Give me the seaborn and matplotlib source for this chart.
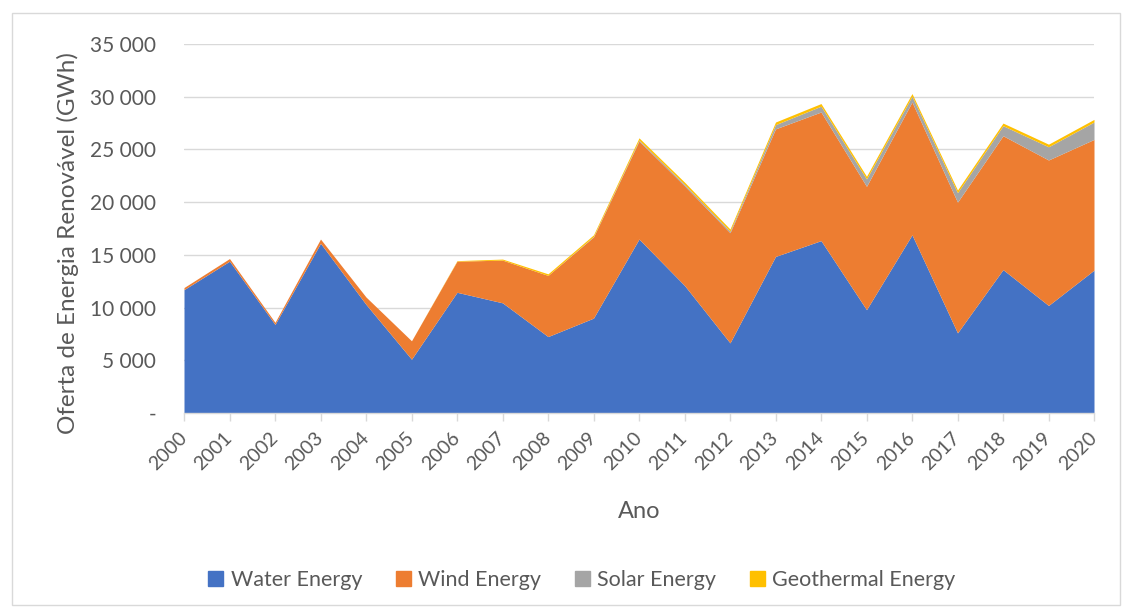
import matplotlib
matplotlib.use("Agg")
import matplotlib.pyplot as plt
import matplotlib.patches as mpatches
from matplotlib.ticker import FuncFormatter, FixedLocator
import seaborn as sns
import numpy as np

years = list(range(2000, 2021))
water = [11700, 14400, 8400, 16100, 10300, 5100, 11450, 10450, 7250, 9000, 16500,
         12100, 6650, 14850, 16350, 9800, 16900, 7600, 13600, 10200, 13550]
wind = [200, 250, 200, 400, 700, 1750, 2950, 4050, 5800, 7700, 9300,
        9450, 10450, 12100, 12200, 11700, 12600, 12400, 12700, 13800, 12400]
solar = [0, 0, 0, 0, 0, 0, 0, 0, 0, 50, 100,
         150, 150, 400, 550, 700, 550, 900, 950, 1250, 1650]
geo = [0, 0, 0, 0, 0, 0, 50, 100, 150, 150, 200,
       200, 200, 250, 250, 250, 250, 250, 250, 250, 250]
series_names = ["Water Energy", "Wind Energy", "Solar Energy", "Geothermal Energy"]
colors = ["#4472C4", "#ED7D31", "#A5A5A5", "#FFC000"]

sns.set_theme(style="white")
plt.rcParams["font.family"] = ["Lato", "DejaVu Sans"]
txt = "#595959"

fig = plt.figure(figsize=(11.32, 6.13), dpi=100)
ax = fig.add_axes([184/1132, 1-413/613, (1094-184)/1132, (413-44)/613])

ax.stackplot(years, water, wind, solar, geo, colors=colors, labels=series_names, linewidth=0)

ax.set_xlim(2000, 2020)
ax.set_ylim(0, 35000)
ax.yaxis.set_major_locator(FixedLocator(np.arange(0, 35001, 5000)))
ax.yaxis.set_major_formatter(FuncFormatter(lambda v, p: "-" if v == 0 else f"{int(v):,}".replace(",", " ")))
ax.set_xticks(years)
ax.set_xticklabels([str(y) for y in years], rotation=45, ha="right", va="center",
                   rotation_mode="anchor", fontsize=14, color=txt)
ax.tick_params(axis="x", length=6, width=1, color="#D9D9D9", pad=10, direction="out", bottom=True)
ax.tick_params(axis="y", length=0, labelsize=15, labelcolor=txt, pad=20)
ax.grid(axis="y", color="#D9D9D9", linewidth=1)
ax.set_axisbelow(True)
for s in ["top", "right", "left"]:
    ax.spines[s].set_visible(False)
ax.spines["bottom"].set_color("#D9D9D9")
ax.spines["bottom"].set_linewidth(1)
ax.spines["bottom"].set_zorder(5)

ax.set_ylabel("Oferta de Energia Renovável (GWh)", fontsize=17.5, color=txt, labelpad=8)
ax.yaxis.label.set_y(0.46)
ax.set_xlabel("Ano", fontsize=17, color=txt, labelpad=20)

handles = [mpatches.Patch(color=c, label=n) for c, n in zip(colors, series_names)]
fig.legend(handles=handles, loc="center", bbox_to_anchor=(0.514, 0.054), ncol=4, frameon=False,
           fontsize=15.5, labelcolor=txt, handlelength=0.7, handleheight=0.7, handletextpad=0.35,
           columnspacing=1.55)

fig.patches.append(mpatches.Rectangle((12/1132, 8/613), (1120-12)/1132, (600-8)/613,
                                      transform=fig.transFigure, fill=False,
                                      edgecolor="#D9D9D9", linewidth=1))

fig.savefig("out.png", dpi=100, facecolor="white")
